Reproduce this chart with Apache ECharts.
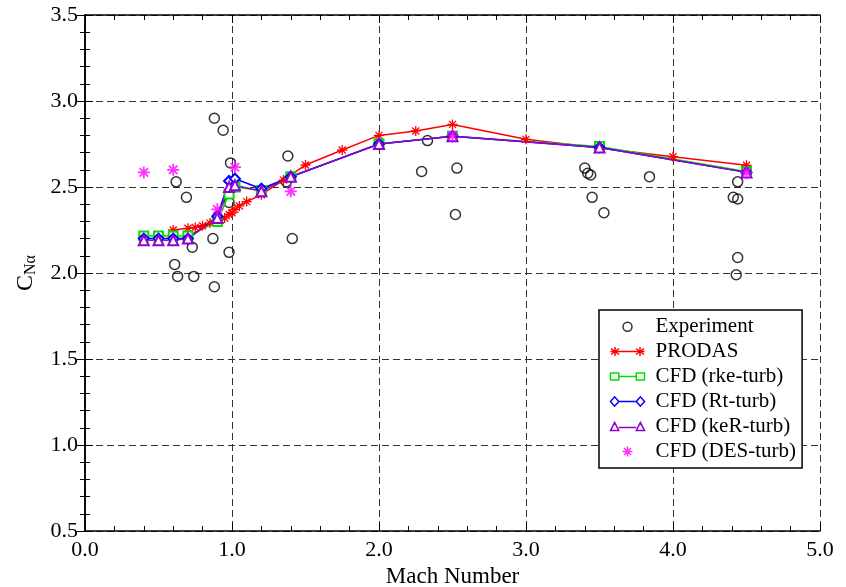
<!DOCTYPE html>
<html>
<head>
<meta charset="utf-8">
<script src="https://cdn.jsdelivr.net/npm/echarts@6/dist/echarts.min.js"></script>
<style>html,body{margin:0;padding:0;background:#fff}#c{width:846px;height:587px}</style>
</head>
<body>
<div id="c"></div>
<script>
var experiment = [[0.88,2.90],[0.94,2.83],[0.99,2.64],[0.62,2.53],[0.69,2.44],[0.98,2.41],[0.87,2.20],[0.73,2.15],[0.98,2.12],[0.61,2.05],[0.63,1.98],[0.74,1.98],[0.88,1.92],[1.38,2.68],[1.37,2.53],[1.41,2.20],[2.33,2.77],[2.29,2.59],[2.53,2.61],[2.52,2.34],[3.40,2.61],[3.42,2.58],[3.44,2.57],[3.45,2.44],[3.53,2.35],[3.84,2.56],[4.44,2.53],[4.41,2.44],[4.44,2.43],[4.44,2.09],[4.43,1.99]];
var prodas = [[0.6,2.25],[0.7,2.26],[0.75,2.265],[0.8,2.275],[0.85,2.29],[0.9,2.30],[0.92,2.31],[0.95,2.32],[0.98,2.34],[1.0,2.35],[1.02,2.37],[1.05,2.39],[1.1,2.415],[1.2,2.455],[1.35,2.54],[1.5,2.628],[1.75,2.715],[2.0,2.80],[2.25,2.826],[2.5,2.864],[3.0,2.777],[4.0,2.676],[4.5,2.626]];
var rke = [[0.4,2.215],[0.5,2.215],[0.6,2.215],[0.7,2.215],[0.9,2.30],[0.98,2.46],[1.02,2.50],[1.2,2.48],[1.4,2.56],[2.0,2.75],[2.5,2.795],[3.5,2.735],[4.5,2.59]];
var rt = [[0.4,2.20],[0.5,2.20],[0.6,2.20],[0.7,2.20],[0.9,2.33],[0.98,2.535],[1.02,2.548],[1.2,2.49],[1.4,2.56],[2.0,2.75],[2.5,2.795],[3.5,2.73],[4.5,2.585]];
var ker = [[0.4,2.19],[0.5,2.19],[0.6,2.19],[0.7,2.20],[0.9,2.32],[0.98,2.50],[1.02,2.51],[1.2,2.475],[1.4,2.56],[2.0,2.75],[2.5,2.795],[3.5,2.73],[4.5,2.585]];
var des = [[0.4,2.585],[0.6,2.60],[0.9,2.37],[1.02,2.615],[1.4,2.475],[2.5,2.80],[4.5,2.585]];
var seriesNames = ['Experiment','PRODAS','CFD (rke-turb)','CFD (Rt-turb)','CFD (keR-turb)','CFD (DES-turb)'];

var FONT = 'Liberation Serif';
var STAR = 'path://M5,0V10M0,5H10M1.5,1.5L8.5,8.5M8.5,1.5L1.5,8.5';
var ICON_PRODAS = 'path://M0,5H34M4.5,0.5V9.5M0.5,2L8.5,8M8.5,2L0.5,8M29.5,0.5V9.5M25.5,2L33.5,8M33.5,2L25.5,8';
var ICON_RECT = 'path://M0.5,1.5H8.5V8.5H0.5ZM25.5,1.5H33.5V8.5H25.5ZM8.5,5H25.5';
var ICON_DIAM = 'path://M0.5,5L4.5,0.5L8.5,5L4.5,9.5ZM25.5,5L29.5,0.5L33.5,5L29.5,9.5ZM8.5,5H25.5';
var ICON_TRI = 'path://M0.5,9L4.5,1L8.5,9ZM25.5,9L29.5,1L33.5,9ZM8.5,6H25.5';
var ICON_STAR = 'path://M17,0V10M12,5H22M13.5,1.5L20.5,8.5M20.5,1.5L13.5,8.5M0,0.01H0.01M34,0.01H34.01';
var ICON_CIRC = 'path://M12.5,5A4.5,4.5,0,1,1,21.5,5A4.5,4.5,0,1,1,12.5,5ZM0,0.01H0.01M34,0.01H34.01';

function mkX(pos, show){
  return {type:'value', position:pos, min:0, max:5, interval:1,
    axisLine:{show:true,lineStyle:{color:'#000',width:1.5}},
    axisTick:{show:true,inside:true,length:8,lineStyle:{color:'#000',width:1}},
    minorTick:{show:true,splitNumber:5,length:5,lineStyle:{color:'#000',width:1}},
    axisLabel:{show:show,color:'#000',fontFamily:FONT,fontSize:22,margin:8,formatter:function(v){return v.toFixed(1);}},
    splitLine:{show:show,lineStyle:{color:'#333',type:[7,4],width:1}},
    name: show ? 'Mach Number' : '', nameLocation:'middle', nameGap:32,
    nameTextStyle:{color:'#000',fontFamily:FONT,fontSize:23}};
}
function mkY(pos, show){
  return {type:'value', position:pos, min:0.5, max:3.5, interval:0.5,
    axisLine:{show:true,lineStyle:{color:'#000',width:1.5}},
    axisTick:{show:true,inside:true,length:8,lineStyle:{color:'#000',width:1}},
    minorTick:{show:true,splitNumber:5,length:5,lineStyle:{color:'#000',width:1}},
    axisLabel:{show:show,color:'#000',fontFamily:FONT,fontSize:22,margin:7,formatter:function(v){return v.toFixed(1);}},
    splitLine:{show:show,lineStyle:{color:'#333',type:[7,4],width:1}},
    name: show ? '{c|C}{s|Nα}' : '', nameLocation:'middle', nameGap:46, nameRotate:90,
    nameTextStyle:{color:'#000',fontFamily:FONT,fontSize:22,
      rich:{c:{fontFamily:FONT,fontSize:24,color:'#000',lineHeight:26},
            s:{fontFamily:FONT,fontSize:16,color:'#000',verticalAlign:'bottom',lineHeight:26,padding:[10,0,0,0]}}}};
}
function lineSeries(name, data, color, symbol, size){
  return {name:name, type:'line', data:data, xAxisIndex:0, yAxisIndex:0,
    symbol:symbol, symbolSize:size, showAllSymbol:true,
    lineStyle:{color:color,width:1.5}, itemStyle:{color:color,borderColor:color,borderWidth:1.3},
    emphasis:{disabled:true}, animation:false, z:3};
}
var chart = echarts.init(document.getElementById('c'));
chart.setOption({
  animation:false,
  backgroundColor:'#fff',
  grid:{left:85,right:26,top:15,bottom:56,containLabel:false,outerBoundsMode:'none'},
  xAxis:[mkX('bottom',true), mkX('top',false)],
  yAxis:[mkY('left',true), mkY('right',false)],
  legend:{orient:'vertical', left:599, top:310, width:203,
    backgroundColor:'#fff', borderColor:'#000', borderWidth:1.5, padding:[6,6,6,9],
    itemWidth:34, itemHeight:10, itemGap:4, selectedMode:false,
    textStyle:{color:'#000',fontFamily:FONT,fontSize:21,lineHeight:18,padding:[0,0,0,6]},
    data:[
      {name:seriesNames[0], icon:ICON_CIRC, itemStyle:{color:'none',borderColor:'#000',borderWidth:1.5}},
      {name:seriesNames[1], icon:ICON_PRODAS, itemStyle:{color:'none',borderColor:'#ff0000',borderWidth:1.5}},
      {name:seriesNames[2], icon:ICON_RECT, itemStyle:{color:'none',borderColor:'#00e000',borderWidth:1.5}},
      {name:seriesNames[3], icon:ICON_DIAM, itemStyle:{color:'none',borderColor:'#0000ff',borderWidth:1.5}},
      {name:seriesNames[4], icon:ICON_TRI, itemStyle:{color:'none',borderColor:'#9400d3',borderWidth:1.5}},
      {name:seriesNames[5], icon:ICON_STAR, itemStyle:{color:'none',borderColor:'#ff00ff',borderWidth:1.5}}
    ]},
  series:[
    {name:seriesNames[0], type:'scatter', data:experiment, symbol:'circle', symbolSize:10,
      itemStyle:{color:'none',borderColor:'#000',borderWidth:1.5}, emphasis:{disabled:true}, z:2},
    lineSeries(seriesNames[1], prodas, '#ff0000', STAR, 10),
    lineSeries(seriesNames[2], rke, '#00e000', 'emptyRect', 9),
    lineSeries(seriesNames[3], rt, '#0000ff', 'emptyDiamond', 10),
    lineSeries(seriesNames[4], ker, '#9400d3', 'emptyTriangle', 10),
    {name:seriesNames[5], type:'scatter', data:des, symbol:STAR, symbolSize:12,
      itemStyle:{color:'#ff00ff',borderColor:'#ff00ff',borderWidth:1.8}, emphasis:{disabled:true}, z:5}
  ]
});
</script>
</body>
</html>
